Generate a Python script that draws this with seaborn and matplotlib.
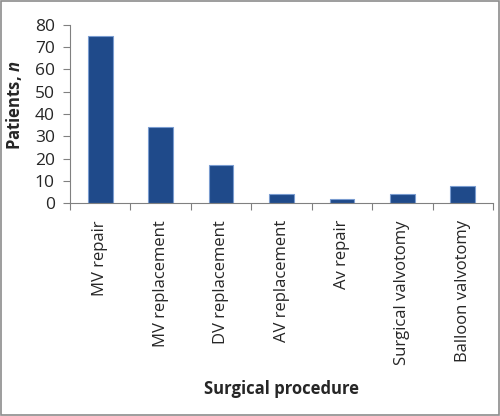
import numpy as np
import pandas as pd
import seaborn as sns
import matplotlib
matplotlib.use("Agg")
import matplotlib.pyplot as plt
from matplotlib.patches import Rectangle

procedures = ["MV repair", "MV replacement", "DV replacement", "AV replacement",
              "Av repair", "Surgical valvotomy", "Balloon valvotomy"]
patients = [75, 34, 17, 4, 2, 4, 8]

BAR_COLOR = "#1F4A8A"
AXIS_COLOR = "#808080"

sns.set_style("white")
plt.rcParams['font.family'] = ['Open Sans', 'DejaVu Sans']
plt.rcParams['mathtext.fontset'] = 'custom'
plt.rcParams['mathtext.it'] = 'Open Sans:italic:bold'
plt.rcParams['mathtext.rm'] = 'Open Sans:bold'

df = pd.DataFrame({"procedure": procedures, "patients": patients})

fig = plt.figure(figsize=(5, 4.16), dpi=100)
ax = fig.add_axes([0.14, 0.511, 0.846, 0.43])

sns.barplot(data=df, x="procedure", y="patients", order=procedures,
            color=BAR_COLOR, saturation=1, width=0.41,
            edgecolor="#7A9CD0", linewidth=0.8, ax=ax)

ax.set_xlim(-0.5, len(procedures) - 0.5)
ax.set_ylim(0, 80)
ax.set_yticks(np.arange(0, 81, 10))

# boundaries get the tick marks, labels sit at bar centres
ax.set_xticks(np.arange(-0.5, len(procedures), 1.0))
ax.set_xticklabels([])
ax.set_xticks(np.arange(len(procedures)), minor=True)
ax.set_xticklabels(procedures, minor=True, rotation=90, ha="center", va="top")
ax.tick_params(axis="x", which="major", direction="out", length=5, width=0.8,
               color=AXIS_COLOR, bottom=True)
ax.tick_params(axis="x", which="minor", length=0, pad=12, labelsize=12)
ax.tick_params(axis="y", direction="out", length=5, width=0.8, color=AXIS_COLOR,
               left=True, pad=6, labelsize=12.5)

for side in ["top", "right"]:
    ax.spines[side].set_visible(False)
for side in ["left", "bottom"]:
    ax.spines[side].set_color(AXIS_COLOR)
    ax.spines[side].set_linewidth(0.8)

ax.set_xlabel("Surgical procedure", fontsize=12, fontweight="bold", va="top")
ax.xaxis.set_label_coords(0.5, -0.985)
ax.set_ylabel("Patients, $\\it{n}$", fontsize=12, fontweight="bold")
ax.yaxis.set_label_coords(-0.108, 0.55)

fig.patches.append(Rectangle((0.002, 0.002), 0.996, 0.996, transform=fig.transFigure,
                             fill=False, edgecolor="#8c8c8c", linewidth=1.2))

fig.savefig("out.png", dpi=100)
